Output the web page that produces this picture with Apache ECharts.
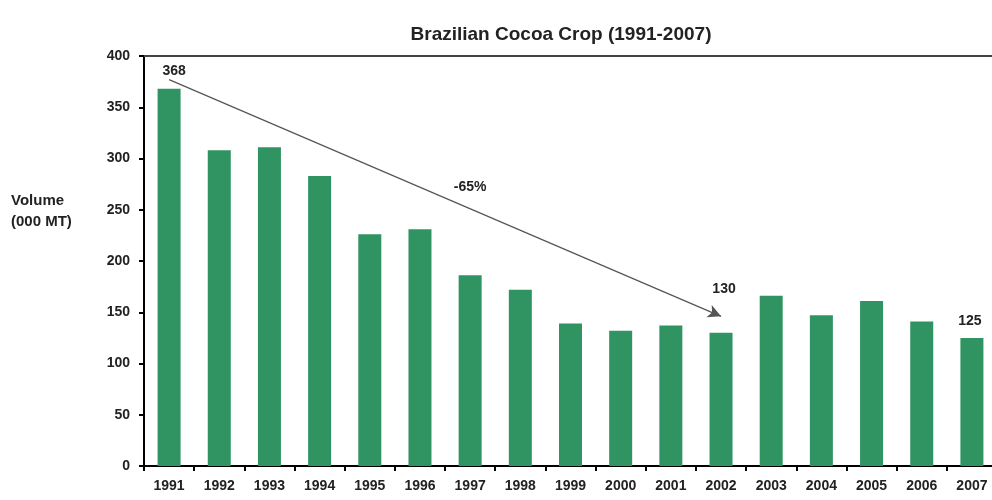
<!DOCTYPE html>
<html><head><meta charset="utf-8">
<script src="https://cdn.jsdelivr.net/npm/echarts@6/dist/echarts.min.js"></script>
<style>html,body{margin:0;padding:0;background:#fff;overflow:hidden;width:992px;height:500px}#c{width:1000px;height:500px}</style>
</head><body><div id="c"></div>
<script>
const years = ['1991','1992','1993','1994','1995','1996','1997','1998','1999','2000','2001','2002','2003','2004','2005','2006','2007'];
const volumes = [368,308,311,283,226,231,186,172,139,132,137,130,166,147,161,141,125];
const labelledYears = ['1991','2002','2007'];
const trendStart = [0.13, 377];
const trendEnd = [11.03, 146];
const trendLabel = '-65%';
const trendLabelAt = [5.95, 272];
const yTicks = [0,50,100,150,200,250,300,350,400];

const chart = echarts.init(document.getElementById('c'));
const font = 'Arial, "Liberation Sans", sans-serif';
const labelCfg = {
  '1991': {distance:11, offset:[5,0]},
  '2002': {distance:37, offset:[3,0]},
  '2007': {distance:10, offset:[-2,0]}
};
const data = volumes.map((v,i)=>{
  const y = years[i];
  const d = {value:v};
  if (labelledYears.includes(y)) {
    d.label = Object.assign({show:true, position:'top',
      formatter:String(v), color:'#222', fontSize:14, fontWeight:'bold', fontFamily:font}, labelCfg[y]);
  }
  return d;
});
chart.setOption({
  animation:false,
  title:{text:'Brazilian Cocoa Crop (1991-2007)', left:556, textAlign:'center', top:20,
    textStyle:{fontSize:19, fontWeight:'bold', color:'#222', fontFamily:font}},
  grid:{left:144, width:853, top:56, bottom:34},
  graphic:[{type:'text', left:11, top:190, style:{text:'Volume\n(000 MT)', fontSize:15, fontWeight:'bold', fill:'#222', fontFamily:font, lineHeight:21}}],
  xAxis:[{type:'category', data:years, position:'bottom',
    axisLine:{lineStyle:{color:'#000', width:2}},
    axisTick:{show:true, length:5, lineStyle:{color:'#000', width:2}},
    axisLabel:{color:'#222', fontSize:14, fontWeight:'bold', margin:13, fontFamily:font}},
   {type:'category', data:years, position:'top',
    axisLine:{lineStyle:{color:'#444', width:2}}, axisTick:{show:false}, axisLabel:{show:false}}],
  yAxis:{type:'value', min:yTicks[0], max:yTicks[yTicks.length-1], interval:50,
    axisLine:{show:true, lineStyle:{color:'#000', width:2}},
    axisTick:{show:true, length:5, lineStyle:{color:'#000', width:2}},
    splitLine:{show:false},
    axisLabel:{color:'#222', fontSize:14, fontWeight:'bold', margin:14, fontFamily:font}},
  series:[{type:'bar', data:data, barWidth:23, itemStyle:{color:'#2f9461'},
    markLine:{silent:true, symbol:['none','arrow'], symbolSize:[10,13],
      lineStyle:{color:'#555', width:1.2, type:'solid'},
      label:{show:false},
      data:[[{coord:trendStart},{coord:trendEnd}]]},
    markPoint:{silent:true, symbol:'circle', symbolSize:0,
      label:{show:true, formatter:trendLabel, color:'#222', fontSize:14, fontWeight:'bold', fontFamily:font},
      data:[{coord:trendLabelAt}]}
  }]
});
</script></body></html>
